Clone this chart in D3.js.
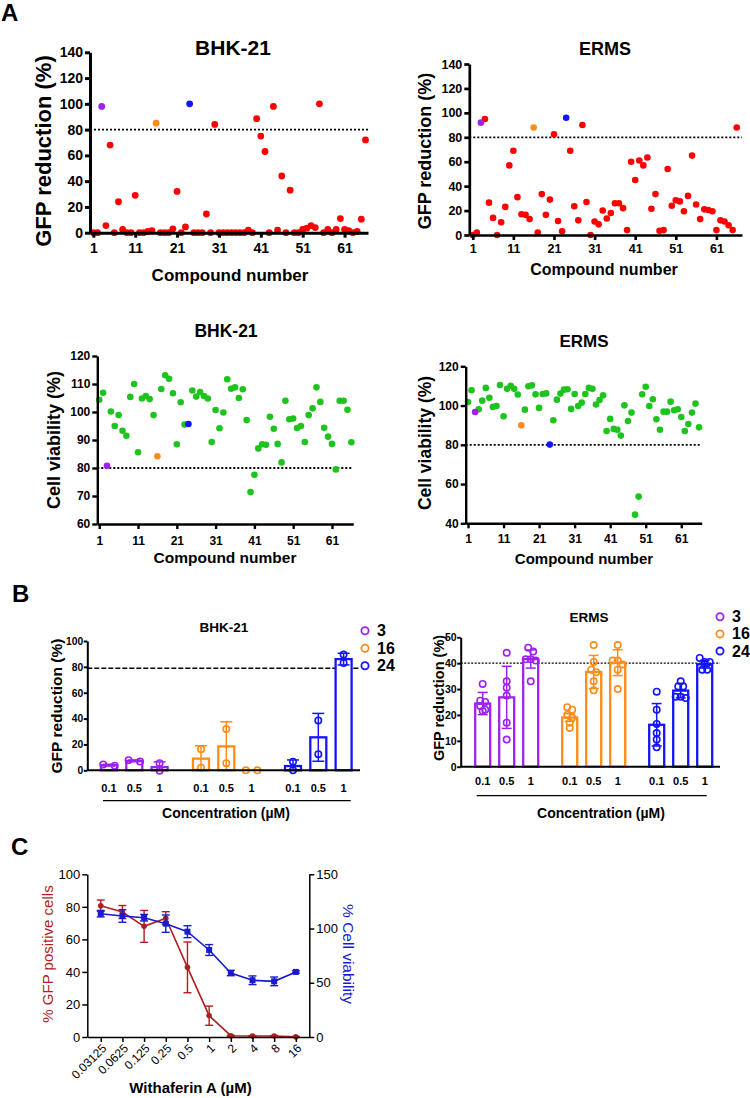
<!DOCTYPE html>
<html>
<head>
<meta charset="utf-8">
<script src="https://cdn.jsdelivr.net/npm/d3@7"></script>
<style>
  body { margin: 0; background: #fff; }
  svg { display: block; font-family: "Liberation Sans", Arial, sans-serif; }
</style>
</head>
<body>
<div id="chart"></div>
<script>
// ---- Panel A data: 66 compounds screened ----
const compounds = d3.range(1, 67);
const hitCompounds = [3, 16, 24];
const hitColors = ["#a020f0", "#ff8c1a", "#1414ff"];
const compoundTicks = [1, 11, 21, 31, 41, 51, 61];

const bhkGfp = [0, 0, 98, 5.5, 68, 0, 24, 2.5, 0, 0,
  29, 0, 0, 1, 1.5, 85, 0, 0, 0, 3,
  32, 0, 4.5, 100, 0, 0, 0, 14.5, 0, 84,
  0, 0, 0, 0, 0, 0, 0, 2, 0, 88.5,
  75, 63, 0, 98, 2, 44, 0, 33, 0, 0,
  2.5, 3.5, 5.5, 4, 100, 0, 2.5, 0, 2.5, 11,
  2.5, 1.5, 0, 1, 10.5, 72];
const ermsGfp = [0, 2, 92, 95, 26.5, 14, 0, 10.5, 23, 57,
  69, 31, 17, 16.5, 13, 88, 2, 33.5, 16.5, 29,
  82.5, 11.5, 3, 96, 69, 23.5, 12, 90, 27, 0,
  11, 8.7, 20, 13.5, 18, 26, 26, 22, 4, 60,
  45, 61, 57, 63.5, 21.5, 33.5, 3.5, 4, 54, 24,
  28.5, 27.5, 19.5, 32, 65, 25, 13, 21, 20.5, 19.5,
  4, 12, 11, 8, 4, 88];
const bhkVia = [104.4, 106.9, 80.8, 100.2, 95, 98.9, 93.3, 91.5, 105.4, 110,
  85.6, 104.8, 105.7, 104.6, 98.9, 84.2, 108.2, 113.1, 111.9, 106.7,
  88.5, 103.5, 95.5, 95.7, 107.7, 105.5, 107.1, 105.7, 104.8, 89.3,
  100.7, 94.2, 99.8, 111.7, 108.3, 108.8, 105, 108.1, 97.1, 71.4,
  77.6, 87, 88.5, 88.3, 98.3, 94, 88.6, 82, 104, 97.4,
  97.7, 94.3, 95, 89.3, 98.9, 101.3, 108.8, 103.6, 94.4, 91.2,
  88.6, 79.5, 104, 104, 100.8, 89.2];
const ermsVia = [101.8, 107.8, 96.7, 98.1, 102.5, 109, 104, 99.3, 99.8, 110.5,
  94.5, 108.5, 110.1, 108.5, 105.6, 89.9, 97.9, 109.8, 110.3, 105.7,
  98.8, 105.9, 106.2, 80.1, 92.5, 103, 106.1, 108.1, 108.3, 98.3,
  105.9, 99.8, 101.5, 105.9, 109, 108.5, 100.5, 102.8, 105.2, 87,
  93.2, 88.1, 87.7, 84.7, 100.1, 92.1, 96.4, 44.4, 53.6, 105.7,
  109.6, 99.8, 103.2, 93, 87.7, 96.9, 96.9, 102, 97.6, 98.1,
  94.2, 87, 90.6, 96.4, 101, 88.9];

// ---- Panel B data: hits 3, 16, 24 at three concentrations ----
const bConcs = ["0.1", "0.5", "1"];
const bhkBarMean = [[4, 7.3, 2.5], [9, 18.5, 0], [3.3, 25.5, 86]];
const bhkBarSd = [[0.7, 0.7, 4], [10, 19, 0], [4.7, 18.5, 4.5]];
const bhkBarPts = [
  [[3.5, 4.5], [6.8, 7.8], [5.5, -0.3]],
  [[16.3, 2], [32, 5.5], [0, 0]],
  [[6.7, 0], [38.5, 12.5], [89.5, 83]]
];
const ermsBarMean = [[24.4, 26.8, 41.6], [19, 36.6, 40.2], [16.2, 29.4, 39.6]];
const ermsBarSd = [[4.3, 12, 3.5], [1.5, 6.4, 5], [8.2, 2.8, 1.5]];
const ermsBarPts = [
  [[32, 25.5, 25, 23.5, 22, 21.5], [44, 33, 30.5, 27.5, 17, 10.5], [46, 44.5, 41.5, 41.5, 41, 33]],
  [[23, 22, 20, 19, 17, 15], [47, 40.5, 37.5, 36.5, 33, 29.5], [47, 41, 41, 39.5, 37.5, 30]],
  [[29, 22, 16.5, 13, 10.5, 7.5], [33, 31, 31, 27, 27, 26.5], [42, 40.5, 40.5, 39.5, 37.5, 37.5]]
];

// ---- Panel C data: Withaferin A dose response ----
const wConcs = ["0.03125", "0.0625", "0.125", "0.25", "0.5", "1", "2", "4", "8", "16"];
const gfpMean = [80.7, 76.8, 68, 73, 42.8, 13.1, 0.8, 0.6, 0.6, 0.1];
const gfpSd = [3.5, 4, 9.8, 4, 15.6, 5.9, 0.3, 0.3, 0.3, 0.2];
const viaMean = [113.7, 111.6, 110, 104.5, 97.1, 80.2, 59, 52.3, 51.3, 60];
const viaSd = [3, 5.8, 3, 8, 5.5, 5, 2.5, 4, 4, 1];

const FONT = '"Liberation Sans", Arial, sans-serif';
const W = 750, H = 1098;

const svg = d3.select("#chart").append("svg")
  .attr("width", W).attr("height", H);

function styleAxis(sel, size, weight, sw) {
  sel.attr("font-family", FONT).attr("font-size", size).attr("font-weight", weight);
  sel.selectAll("path, line").attr("stroke", "#000").attr("stroke-width", sw);
  sel.selectAll("text").attr("fill", "#000");
}

function panelLetter(txt, x, y) {
  svg.append("text").attr("x", x).attr("y", y)
    .attr("font-size", 24).attr("font-weight", "bold").text(txt);
}

panelLetter("A", 1, 21);
panelLetter("B", 12, 602);
panelLetter("C", 11, 855);

// ---------------- Panel A scatter plots ----------------
function scatterPanel(cfg, values, baseColor) {
  const x = d3.scaleLinear().domain(cfg.xDom).range([cfg.x0, cfg.x1]);
  const y = d3.scaleLinear().domain(cfg.yDom).range([cfg.yBot, cfg.yTop]);
  const g = svg.append("g");

  g.append("line")
    .attr("x1", cfg.x0).attr("x2", cfg.x1)
    .attr("y1", y(80)).attr("y2", y(80))
    .attr("stroke", "#000").attr("stroke-width", 1.8)
    .attr("stroke-dasharray", "2,2");

  const pts = compounds.map((c, i) => ({ c: c, v: values[i], hit: hitCompounds.indexOf(c) }));
  pts.sort((a, b) => (a.hit >= 0) - (b.hit >= 0));

  g.selectAll("circle.dot").data(pts).enter().append("circle")
    .attr("class", "dot")
    .attr("cx", d => x(d.c))
    .attr("cy", d => y(d.v))
    .attr("r", cfg.r)
    .attr("fill", d => d.hit >= 0 ? hitColors[d.hit] : baseColor);

  const ya = g.append("g").attr("transform", `translate(${cfg.x0},0)`)
    .call(d3.axisLeft(y).tickValues(cfg.yTicks).tickSize(5).tickSizeOuter(0).tickPadding(2));
  styleAxis(ya, cfg.tickFont, "bold", cfg.sw);

  const xa = g.append("g").attr("transform", `translate(0,${cfg.yBot})`)
    .call(d3.axisBottom(x).tickValues(compoundTicks).tickSize(5).tickSizeOuter(0).tickPadding(cfg.xPad));
  styleAxis(xa, cfg.tickFont, "bold", cfg.sw);

  g.append("text").attr("x", cfg.titleX).attr("y", cfg.titleY)
    .attr("text-anchor", "middle").attr("font-weight", "bold")
    .attr("font-size", cfg.titleFont).text(cfg.title);

  g.append("text")
    .attr("transform", `translate(${cfg.ylabX},${cfg.ylabY}) rotate(-90)`)
    .attr("text-anchor", "middle").attr("font-weight", "bold")
    .attr("font-size", cfg.ylabFont).text(cfg.ylab);

  g.append("text").attr("x", cfg.xlabX).attr("y", cfg.xlabY)
    .attr("text-anchor", "middle").attr("font-weight", "bold")
    .attr("font-size", cfg.xlabFont).text("Compound number");
}

scatterPanel({
  x0: 90, x1: 368, xDom: [0.2, 66.6], yTop: 52.3, yBot: 232.7, yDom: [0, 140],
  yTicks: d3.range(0, 141, 20), tickFont: 14, xPad: 5, sw: 3, r: 3.4,
  title: "BHK-21", titleX: 233, titleY: 55, titleFont: 21,
  ylab: "GFP reduction (%)", ylabX: 51, ylabY: 151, ylabFont: 22,
  xlabX: 230, xlabY: 281, xlabFont: 17
}, bhkGfp, "#ff0000");

scatterPanel({
  x0: 469.3, x1: 742, xDom: [0.15, 67.3], yTop: 64, yBot: 235, yDom: [0, 140],
  yTicks: d3.range(0, 141, 20), tickFont: 12.5, xPad: 4, sw: 2.7, r: 3.3,
  title: "ERMS", titleX: 605, titleY: 55, titleFont: 18,
  ylab: "GFP reduction (%)", ylabX: 431, ylabY: 151, ylabFont: 18,
  xlabX: 604, xlabY: 275, xlabFont: 16
}, ermsGfp, "#ff0000");

scatterPanel({
  x0: 97.3, x1: 353.3, xDom: [0.5, 66.5], yTop: 356, yBot: 524, yDom: [60, 120],
  yTicks: d3.range(60, 121, 10), tickFont: 12, xPad: 7, sw: 2.4, r: 3.3,
  title: "BHK-21", titleX: 226, titleY: 337, titleFont: 17.5,
  ylab: "Cell viability (%)", ylabX: 60, ylabY: 440, ylabFont: 18,
  xlabX: 225, xlabY: 563, xlabFont: 15.5
}, bhkVia, "#1ec41e");

scatterPanel({
  x0: 465.7, x1: 701.7, xDom: [0.35, 66.75], yTop: 366.3, yBot: 523.3, yDom: [40, 120],
  yTicks: d3.range(40, 121, 20), tickFont: 12, xPad: 6, sw: 2.4, r: 3.3,
  title: "ERMS", titleX: 584, titleY: 347, titleFont: 17,
  ylab: "Cell viability (%)", ylabX: 431, ylabY: 443, ylabFont: 17.5,
  xlabX: 584, xlabY: 564, xlabFont: 15
}, ermsVia, "#1ec41e");

// ---------------- Panel B bar charts ----------------
// spread overlapping replicate points sideways
function dodge(vals, y, thresh, step) {
  const sorted = vals.map(v => ({ v: v, py: y(v) })).sort((a, b) => a.py - b.py);
  const rows = [];
  let row = [];
  sorted.forEach(p => {
    if (row.length && Math.abs(p.py - row[0].py) > thresh) { rows.push(row); row = []; }
    row.push(p);
  });
  if (row.length) rows.push(row);
  const res = [];
  rows.forEach(r => r.forEach((p, i) => res.push({ v: p.v, dx: (i - (r.length - 1) / 2) * step })));
  return res;
}

function barPanel(cfg, means, sds, pts) {
  const y = d3.scaleLinear().domain(cfg.yDom).range([cfg.yBot, cfg.yTop]);
  const outer = d3.scaleBand().domain(hitCompounds).range(cfg.groupRange);
  const inner = d3.scalePoint().domain(bConcs)
    .range([outer.bandwidth() / 2 - cfg.innerStep, outer.bandwidth() / 2 + cfg.innerStep]);
  const g = svg.append("g");

  g.append("line")
    .attr("x1", cfg.x0).attr("x2", cfg.x1)
    .attr("y1", y(cfg.refLine)).attr("y2", y(cfg.refLine))
    .attr("stroke", "#000").attr("stroke-width", cfg.refWidth)
    .attr("stroke-dasharray", cfg.refDash);

  hitCompounds.forEach((c, gi) => {
    const col = hitColors[gi];
    bConcs.forEach((conc, ci) => {
      const cx = outer(c) + inner(conc);
      const m = means[gi][ci], s = sds[gi][ci];
      if (m > 0) {
        g.append("rect")
          .attr("x", cx - cfg.barW / 2).attr("width", cfg.barW)
          .attr("y", y(m)).attr("height", y(0) - y(m))
          .attr("fill", "#fff").attr("stroke", col).attr("stroke-width", 2.3);
      }
      if (s > 0) {
        const top = y(m + s), bot = y(Math.max(0, m - s));
        g.append("line").attr("x1", cx).attr("x2", cx).attr("y1", top).attr("y2", bot)
          .attr("stroke", col).attr("stroke-width", 1.5);
        [top, bot].forEach(yy => g.append("line")
          .attr("x1", cx - cfg.capW / 2).attr("x2", cx + cfg.capW / 2)
          .attr("y1", yy).attr("y2", yy)
          .attr("stroke", col).attr("stroke-width", 1.5));
      }
      g.selectAll(null).data(dodge(pts[gi][ci], y, cfg.dodgeThresh, cfg.dodgeStep))
        .enter().append("circle")
        .attr("cx", d => cx + d.dx).attr("cy", d => y(d.v)).attr("r", 3.2)
        .attr("fill", "none").attr("stroke", col).attr("stroke-width", 1.6);
      g.append("text").attr("x", cx).attr("y", cfg.labY)
        .attr("text-anchor", "middle").attr("font-weight", "bold")
        .attr("font-size", 11).text(conc);
    });
  });

  const ya = g.append("g").attr("transform", `translate(${cfg.x0},0)`)
    .call(d3.axisLeft(y).tickValues(cfg.yTicks).tickSize(3.5).tickSizeOuter(0).tickPadding(0.5));
  styleAxis(ya, cfg.tickFont, "bold", 2);

  g.append("line").attr("x1", cfg.x0).attr("x2", cfg.x1)
    .attr("y1", y(0)).attr("y2", y(0)).attr("stroke", "#000").attr("stroke-width", 2);

  g.append("line").attr("x1", cfg.ulX0).attr("x2", cfg.ulX1)
    .attr("y1", cfg.ulY).attr("y2", cfg.ulY).attr("stroke", "#000").attr("stroke-width", 1.3);

  g.append("text").attr("x", cfg.titleX).attr("y", cfg.titleY)
    .attr("text-anchor", "middle").attr("font-weight", "bold")
    .attr("font-size", cfg.titleFont).text(cfg.title);

  g.append("text")
    .attr("transform", `translate(${cfg.ylabX},${cfg.ylabY}) rotate(-90)`)
    .attr("text-anchor", "middle").attr("font-weight", "bold")
    .attr("font-size", cfg.ylabFont).text("GFP reduction (%)");

  g.append("text").attr("x", cfg.xlabX).attr("y", cfg.xlabY)
    .attr("text-anchor", "middle").attr("font-weight", "bold")
    .attr("font-size", 14).text("Concentration (\u00B5M)");

  // legend
  hitCompounds.forEach((c, i) => {
    const ly = cfg.legY + i * cfg.legStep;
    g.append("circle").attr("cx", cfg.legX).attr("cy", ly).attr("r", 3.6)
      .attr("fill", "none").attr("stroke", hitColors[i]).attr("stroke-width", 1.8);
    g.append("text").attr("x", cfg.legX + 12).attr("y", ly + 5.5)
      .attr("font-weight", "bold").attr("font-size", 16).text(c);
  });
}

barPanel({
  x0: 87.3, x1: 360, yTop: 641, yBot: 770.3, yDom: [0, 100], yTicks: d3.range(0, 101, 20),
  groupRange: [88.3, 364.3], innerStep: 25.3, barW: 16, capW: 12,
  refLine: 79, refWidth: 1.5, refDash: "5,2",
  dodgeThresh: 4, dodgeStep: 11.5, tickFont: 10.3, labY: 792,
  ulX0: 103, ulX1: 350.7, ulY: 800.7,
  title: "BHK-21", titleX: 224, titleY: 632, titleFont: 13.5,
  ylabX: 62, ylabY: 706, ylabFont: 15.5, xlabX: 226, xlabY: 818,
  legX: 365, legY: 630.7, legStep: 17.5
}, bhkBarMean, bhkBarSd, bhkBarPts);

barPanel({
  x0: 460.7, x1: 720, yTop: 637.3, yBot: 766.7, yDom: [0, 50], yTicks: d3.range(0, 51, 10),
  groupRange: [463.2, 724.2], innerStep: 24, barW: 15, capW: 10,
  refLine: 40, refWidth: 1.3, refDash: "2,1.5",
  dodgeThresh: 4, dodgeStep: 5, tickFont: 10.5, labY: 785,
  ulX0: 476.7, ulX1: 706.7, ulY: 795.7,
  title: "ERMS", titleX: 589, titleY: 622, titleFont: 13.5,
  ylabX: 444, ylabY: 698, ylabFont: 14.5, xlabX: 601, xlabY: 818,
  legX: 720, legY: 616.7, legStep: 17.2
}, ermsBarMean, ermsBarSd, ermsBarPts);

// ---------------- Panel C dual axis line chart ----------------
(function () {
  const red = "#b01e23", blue = "#1a1ad0";
  const x = d3.scalePoint().domain(wConcs).range([87.3, 309.3]).padding(0.62);
  const yL = d3.scaleLinear().domain([0, 100]).range([1037, 874.3]);
  const yR = d3.scaleLinear().domain([0, 150]).range([1037, 874.3]);
  const g = svg.append("g");

  function series(mean, sd, ys, col, square) {
    const rows = wConcs.map((c, i) => ({ c: c, m: mean[i], s: sd[i] }));
    g.append("path").datum(rows)
      .attr("d", d3.line().x(d => x(d.c)).y(d => ys(d.m)))
      .attr("fill", "none").attr("stroke", col).attr("stroke-width", 1.6);
    rows.forEach(d => {
      const cx = x(d.c), t = ys(d.m + d.s), b = ys(Math.max(0, d.m - d.s));
      g.append("line").attr("x1", cx).attr("x2", cx).attr("y1", t).attr("y2", b)
        .attr("stroke", col).attr("stroke-width", 1.4);
      [t, b].forEach(yy => g.append("line").attr("x1", cx - 4).attr("x2", cx + 4)
        .attr("y1", yy).attr("y2", yy).attr("stroke", col).attr("stroke-width", 1.4));
    });
    if (square) {
      g.selectAll(null).data(rows).enter().append("rect")
        .attr("x", d => x(d.c) - 3).attr("y", d => ys(d.m) - 3)
        .attr("width", 6).attr("height", 6).attr("fill", col);
    } else {
      g.selectAll(null).data(rows).enter().append("circle")
        .attr("cx", d => x(d.c)).attr("cy", d => ys(d.m)).attr("r", 2.8).attr("fill", col);
    }
  }

  series(gfpMean, gfpSd, yL, red, false);
  series(viaMean, viaSd, yR, blue, true);

  const la = g.append("g").attr("transform", "translate(87.3,0)")
    .call(d3.axisLeft(yL).tickValues(d3.range(0, 101, 20)).tickSize(5).tickSizeOuter(0).tickPadding(2));
  styleAxis(la, 13, "normal", 1.5);
  const ra = g.append("g").attr("transform", "translate(309.3,0)")
    .call(d3.axisRight(yR).tickValues([0, 50, 100, 150]).tickSize(5).tickSizeOuter(0).tickPadding(2));
  styleAxis(ra, 13, "normal", 1.5);
  const xa = g.append("g").attr("transform", "translate(0,1037)")
    .call(d3.axisBottom(x).tickSize(5).tickSizeOuter(0).tickPadding(3));
  styleAxis(xa, 12, "normal", 1.5);
  xa.selectAll("text")
    .attr("text-anchor", "end")
    .attr("dy", "0.35em")
    .attr("transform", "translate(3,9) rotate(-45)")
    .attr("x", 0).attr("y", 0);

  g.append("text")
    .attr("transform", "translate(53,954) rotate(-90)")
    .attr("text-anchor", "middle").attr("font-size", 15).attr("fill", red)
    .text("% GFP positive cells");
  g.append("text")
    .attr("transform", "translate(343,954) rotate(90)")
    .attr("text-anchor", "middle").attr("font-size", 15.5).attr("fill", blue)
    .text("% Cell viability");
  g.append("text").attr("x", 190.5).attr("y", 1093)
    .attr("text-anchor", "middle").attr("font-weight", "bold").attr("font-size", 15)
    .text("Withaferin A (\u00B5M)");
})();
</script>
</body>
</html>
